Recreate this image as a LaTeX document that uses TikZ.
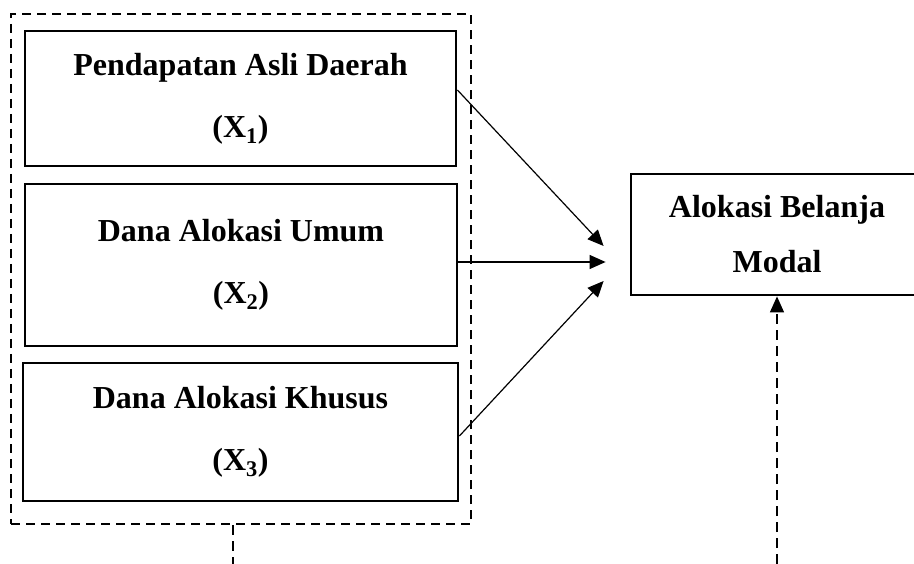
\documentclass[tikz,border=0pt]{standalone}
\usepackage{fontspec}
\setmainfont{Liberation Serif}
\usetikzlibrary{arrows.meta}
\begin{document}
\begin{tikzpicture}[x=1pt,y=-1pt,
  varbox/.style={draw, line width=2.8pt, rectangle, inner sep=0pt, align=center,
    font=\bfseries\fontsize{32}{62}\selectfont},
  groupbox/.style={draw, line width=2.6pt, dash pattern=on 9pt off 6pt, rectangle, inner sep=0pt},
  link/.style={line width=1.2pt, -{Triangle[length=16pt,width=14pt]}},
  thindash/.style={line width=1.3pt, dash pattern=on 10pt off 6pt}]
\useasboundingbox (0,0) rectangle (914,564);
\clip (0,0) rectangle (914,564);
\node[groupbox, minimum width=460pt, minimum height=510pt] (grp) at (241,269) {};
\node[varbox, minimum width=431pt, minimum height=135pt] (b1) at (240.5,98.5) {Pendapatan Asli Daerah\\(X\textsubscript{1})};
\node[varbox, minimum width=432pt, minimum height=162pt] (b2) at (241,265) {Dana Alokasi Umum\\(X\textsubscript{2})};
\node[varbox, minimum width=435pt, minimum height=138pt] (b3) at (240.5,432) {Dana Alokasi Khusus\\(X\textsubscript{3})};
\node[varbox, minimum width=292pt, minimum height=121pt, font=\bfseries\fontsize{32}{55}\selectfont] (rb) at (777,234.5) {Alokasi Belanja\\Modal};
\draw[link] ([yshift=8.5pt]b1.east) -- ([xshift=-26pt,yshift=-11.5pt]rb.west);
\draw[link] ([yshift=3pt]b2.east) -- ([xshift=-24pt,yshift=-27.5pt]rb.west);
\draw[link] ([yshift=-4pt]b3.east) -- ([xshift=-26pt,yshift=-46.5pt]rb.west);
\coordinate (gend) at (233,564);
\coordinate (rend) at (777,564);
\draw[thindash] ([xshift=-8pt]grp.south) -- (gend);
\draw[thindash, -{Triangle[length=16pt,width=14pt]}] (rend) -- (rb.south);
\end{tikzpicture}
\end{document}
